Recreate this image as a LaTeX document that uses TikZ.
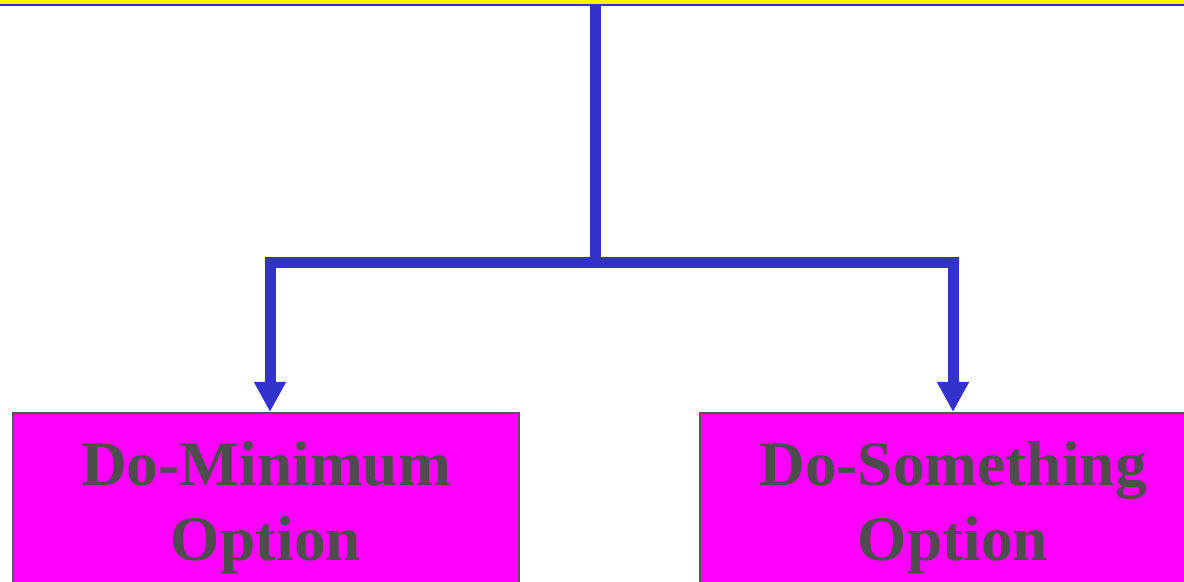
\documentclass[tikz,border=0pt]{standalone}
\usepackage{fontspec}
\setmainfont{Liberation Serif}
\usetikzlibrary{arrows.meta,positioning}
\definecolor{linkblue}{RGB}{51,51,204}
\definecolor{boxgray}{RGB}{85,85,85}
\definecolor{textgray}{RGB}{77,77,77}
\definecolor{boxpink}{RGB}{255,0,255}
\tikzset{
    %Define standard arrow tip
    >={Triangle[width=15pt,length=15pt]},
    %Define style for boxes
    option/.style={
           rectangle,
           draw=boxgray, line width=1pt,
           fill=boxpink,
           minimum width=253pt,
           inner xsep=4pt,
           inner ysep=14.5pt,
           anchor=north,
           align=center,
           text=textgray,
           font=\fontsize{31.7pt}{37.5pt}\selectfont\bfseries},
    goalbox/.style={
           rectangle,
           draw=linkblue, line width=1pt,
           fill=yellow,
           minimum width=700pt,
           minimum height=40pt,
           anchor=south},
    % Define arrow style
    link/.style={
           draw=linkblue,
           line width=5.5pt,
           line join=miter}
}
\begin{document}
\begin{tikzpicture}[x=0.5pt,y=-0.5pt]
\useasboundingbox (0,0) rectangle (1184,582);
\clip (0,0) rectangle (1184,582);
\node[goalbox] (goal) at (595,6.5) {};
\coordinate (split) at (595,263);
\node[option] (dmin) at (266,412) {Do-Minimum\\Option};
\node[option] (dsome) at (953,412) {Do-Something\\Option};
\draw[link] (goal.south) -- (split);
\draw[link,->] (split) -| ([xshift=2pt]dmin.north);
\draw[link,->] (split) -| (dsome.north);
\end{tikzpicture}
\end{document}
